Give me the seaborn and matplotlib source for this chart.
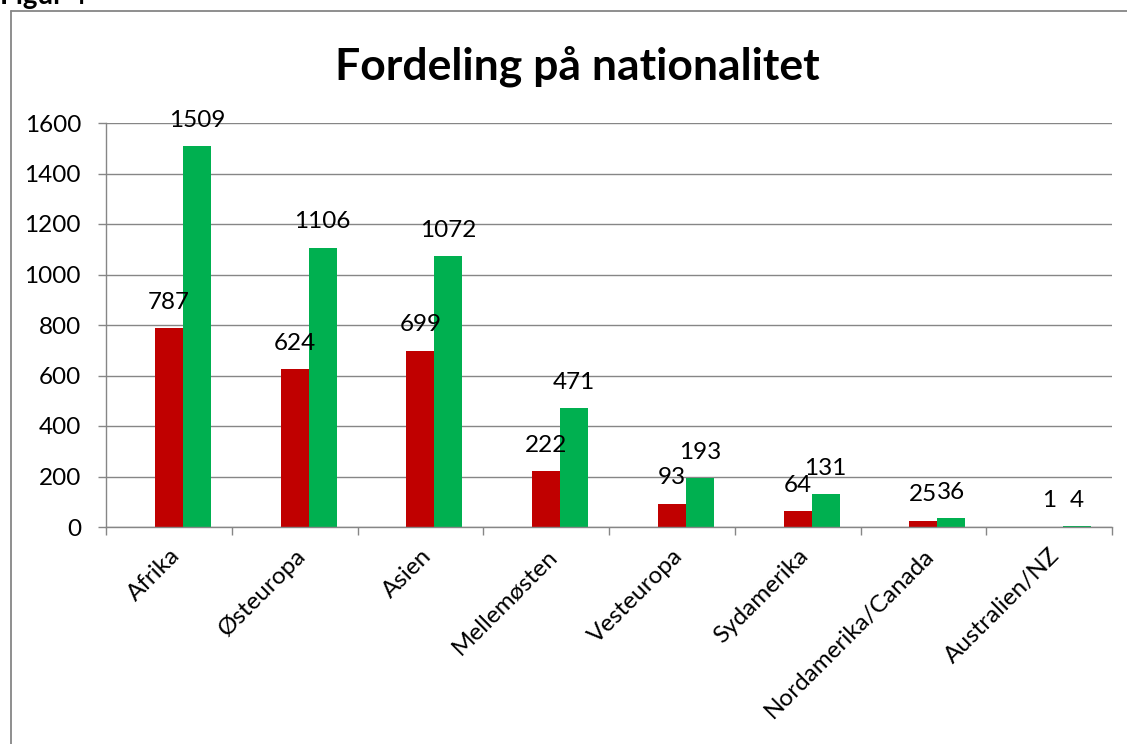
import matplotlib
matplotlib.use("Agg")
import matplotlib.pyplot as plt
import seaborn as sns
import pandas as pd
from matplotlib.lines import Line2D

categories = ["Afrika", "Østeuropa", "Asien", "Mellemøsten", "Vesteuropa",
              "Sydamerika", "Nordamerika/Canada", "Australien/NZ"]
serie_tom = [0, 0, 0, 0, 0, 0, 0, 0]
serie_roed = [787, 624, 699, 222, 93, 64, 25, 1]
serie_groen = [1509, 1106, 1072, 471, 193, 131, 36, 4]
series_names = ["Serie 0", "Serie 1", "Serie 2"]
y_ticks = [0, 200, 400, 600, 800, 1000, 1200, 1400, 1600]
title = "Fordeling på nationalitet"
fig_label = "Figur 4"

rows = []
for name, vals in zip(series_names, [serie_tom, serie_roed, serie_groen]):
    for c, v in zip(categories, vals):
        rows.append({"Nationalitet": c, "Serie": name, "Antal": v})
df = pd.DataFrame(rows)

sns.set_theme(style="white")
plt.rcParams["font.family"] = ["Lato", "DejaVu Sans"]

W, H = 1127, 744
fig = plt.figure(figsize=(W / 100, H / 100), dpi=100)
ax = fig.add_axes([106 / W, 1 - 527 / H, (1112 - 106) / W, (527 - 123) / H])

grid_col = "#868686"
fs = 17.5
sns.barplot(data=df, x="Nationalitet", y="Antal", hue="Serie",
            hue_order=series_names, order=categories,
            palette=["#FFFFFF", "#C00000", "#00B050"],
            width=1 / 1.5, errorbar=None, saturation=1, linewidth=0,
            legend=False, ax=ax)

ax.set_ylim(0, 1600)
ax.set_xlim(-0.5, len(categories) - 0.5)
ax.set_yticks(y_ticks)
ax.set_yticklabels([str(t) for t in y_ticks], fontsize=fs, color="black")
ax.yaxis.grid(True, color=grid_col, linewidth=1.0)
ax.set_axisbelow(True)
ax.set_xlabel("")
ax.set_ylabel("")

# x ticks at category borders, labels at centres
ax.set_xticks([i - 0.5 for i in range(len(categories) + 1)], minor=True)
ax.set_xticks(range(len(categories)))
ax.set_xticklabels(categories, rotation=45, ha="right", rotation_mode="anchor",
                   fontsize=fs, color="black")
ax.tick_params(axis="x", which="major", length=0, pad=13)
ax.tick_params(axis="x", which="minor", length=6, color=grid_col, width=1.0, bottom=True)
ax.tick_params(axis="y", which="major", length=6, color=grid_col, width=1.0, left=True, pad=12)

for s in ["top", "right"]:
    ax.spines[s].set_visible(False)
for s in ["left", "bottom"]:
    ax.spines[s].set_color(grid_col)
    ax.spines[s].set_linewidth(1.0)

for cont in ax.containers[1:]:
    ax.bar_label(cont, fmt="%d", padding=11, fontsize=fs, color="black")

fig.text(577 / W, 1 - 66 / H, title, ha="center", va="center",
         fontsize=32, fontweight="bold", color="black")
fig.text(0.0, 1 - 4 / H, fig_label, ha="left", va="baseline",
         fontsize=20, fontweight="bold", color="black")

# outer chart frame
fig.add_artist(Line2D([10.5 / W, 10.5 / W], [0, 1 - 11 / H], transform=fig.transFigure,
                      color=grid_col, linewidth=1.3))
fig.add_artist(Line2D([10.5 / W, 1], [1 - 11 / H, 1 - 11 / H], transform=fig.transFigure,
                      color=grid_col, linewidth=1.3))

fig.savefig("out.png", dpi=100, facecolor="white")
